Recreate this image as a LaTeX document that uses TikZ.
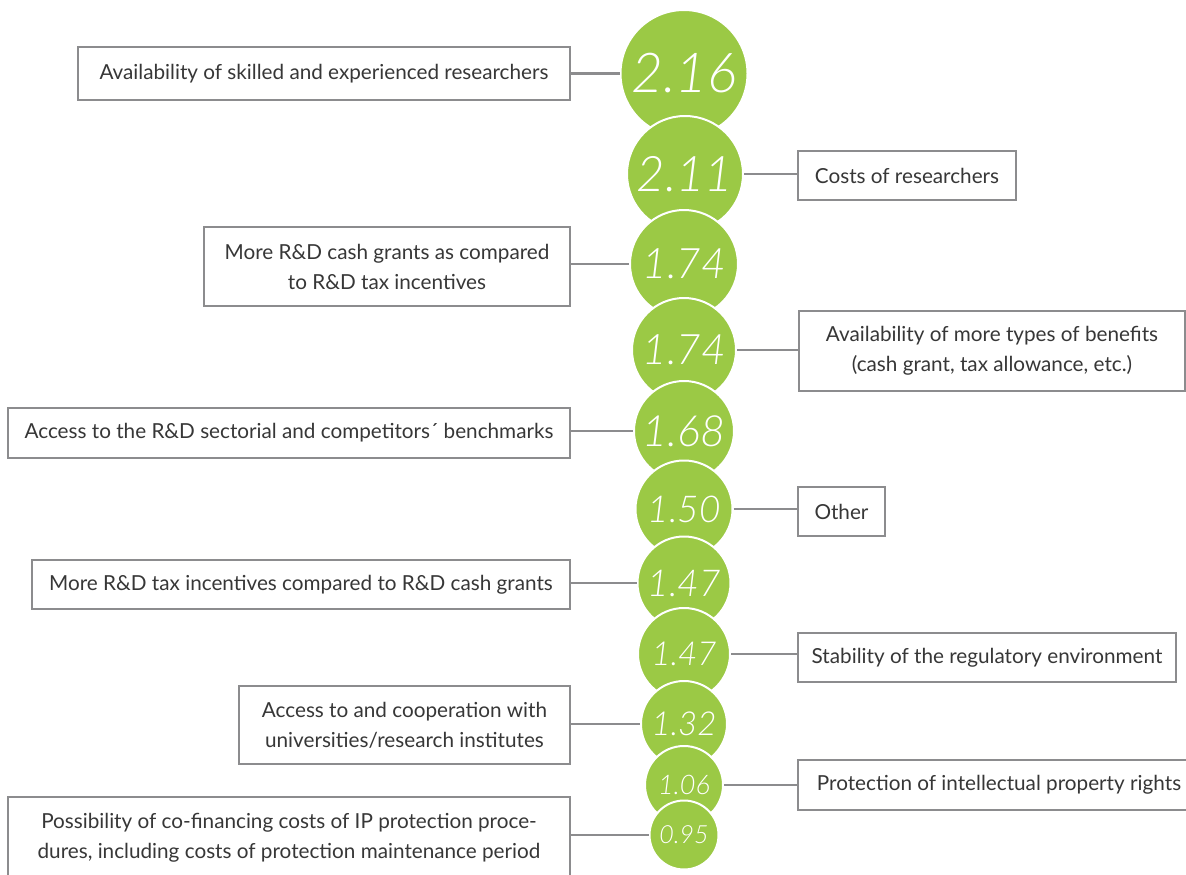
\documentclass[tikz,border=0pt]{standalone}
\usepackage{fontspec}
\setmainfont{Lato}
\newfontfamily\numfont{Lato Light Italic}
\definecolor{leaf}{RGB}{155,201,69}
\definecolor{frame}{RGB}{140,140,142}
\definecolor{ink}{RGB}{55,55,55}
\tikzset{
  x=1pt, y=-1pt,
  bubble/.style={circle, fill=leaf, draw=white, line width=2pt, inner sep=0pt, text=white},
  labelbox/.style={draw=frame, line width=2.2pt, fill=white, inner sep=0pt, align=center, text=ink,
     font=\fontsize{20.7}{30}\selectfont},
  link/.style={draw=frame, line width=2.2pt}
}
\newcommand{\num}[1]{\numfont #1}
\begin{document}
\begin{tikzpicture}
\useasboundingbox (0,0) rectangle (1186,875);
\clip (0,0) rectangle (1186,875);
% circles (drawn in order so later ones overlap earlier)
\node[bubble, minimum size=127pt, font=\fontsize{55}{55}\selectfont] (c1) at (684,73.5) {\num{2.16}};
\node[bubble, minimum size=116pt, font=\fontsize{49}{49}\selectfont] (c2) at (685,174) {\num{2.11}};
\node[bubble, minimum size=108pt, font=\fontsize{42}{42}\selectfont] (c3) at (684,264) {\num{1.74}};
\node[bubble, minimum size=104pt, font=\fontsize{42}{42}\selectfont] (c4) at (684,350) {\num{1.74}};
\node[bubble, minimum size=100pt, font=\fontsize{43}{43}\selectfont] (c5) at (684,431) {\num{1.68}};
\node[bubble, minimum size=97pt, font=\fontsize{37}{37}\selectfont] (c6) at (684,509) {\num{1.50}};
\node[bubble, minimum size=93pt, font=\fontsize{37}{37}\selectfont] (c7) at (684,583) {\num{1.47}};
\node[bubble, minimum size=92pt, font=\fontsize{33}{33}\selectfont] (c8) at (684,654) {\num{1.47}};
\node[bubble, minimum size=86pt, font=\fontsize{33}{33}\selectfont] (c9) at (684,724) {\num{1.32}};
\node[bubble, minimum size=78pt, font=\fontsize{27}{27}\selectfont] (c10) at (684,785) {\num{1.06}};
\node[bubble, minimum size=69pt, font=\fontsize{25}{25}\selectfont] (c11) at (684,835) {\num{0.95}};
% boxes
\node[labelbox, minimum width=492pt, minimum height=53pt] (b1) at (324,73.5) {Availability of skilled and experienced researchers};
\node[labelbox, minimum width=218pt, minimum height=49pt] (b2) at (907,175.5) {Costs of researchers};
\node[labelbox, minimum width=366pt, minimum height=79pt] (b3) at (387,266.5) {More R\&D cash grants as compared\\to R\&D tax incentives};
\node[labelbox, minimum width=386pt, minimum height=80pt] (b4) at (992,351) {Availability of more types of benefits\\(cash grant, tax allowance, etc.)};
\node[labelbox, minimum width=562pt, minimum height=50pt] (b5) at (289,433) {Access to the R\&D sectorial and competitors´ benchmarks};
\node[labelbox, minimum width=87pt, minimum height=49pt] (b6) at (841.5,511.5) {Other};
\node[labelbox, minimum width=538pt, minimum height=49pt] (b7) at (301,584.5) {More R\&D tax incentives compared to R\&D cash grants};
\node[labelbox, minimum width=378pt, minimum height=49pt] (b8) at (987,657.5) {Stability of the regulatory environment};
\node[labelbox, minimum width=331pt, minimum height=78pt] (b9) at (404.5,725) {Access to and cooperation with\\universities/research institutes};
\node[labelbox, minimum width=402pt, minimum height=50pt] (b10) at (999,785) {Protection of intellectual property rights};
\node[labelbox, minimum width=562pt, minimum height=82pt] (b11) at (289,838) {Possibility of co-financing costs of IP protection proce-\\dures, including costs of protection maintenance period};
% connectors (horizontal, at the height of each circle)
\draw[link] (b1.east |- c1.west) -- (c1.west);
\draw[link] (c2.east) -- (b2.west |- c2.east);
\draw[link] (b3.east |- c3.west) -- (c3.west);
\draw[link] (c4.east) -- (b4.west |- c4.east);
\draw[link] (b5.east |- c5.west) -- (c5.west);
\draw[link] (c6.east) -- (b6.west |- c6.east);
\draw[link] (b7.east |- c7.west) -- (c7.west);
\draw[link] (c8.east) -- (b8.west |- c8.east);
\draw[link] (b9.east |- c9.west) -- (c9.west);
\draw[link] (c10.east) -- (b10.west |- c10.east);
\draw[link] (b11.east |- c11.west) -- (c11.west);
\end{tikzpicture}
\end{document}
